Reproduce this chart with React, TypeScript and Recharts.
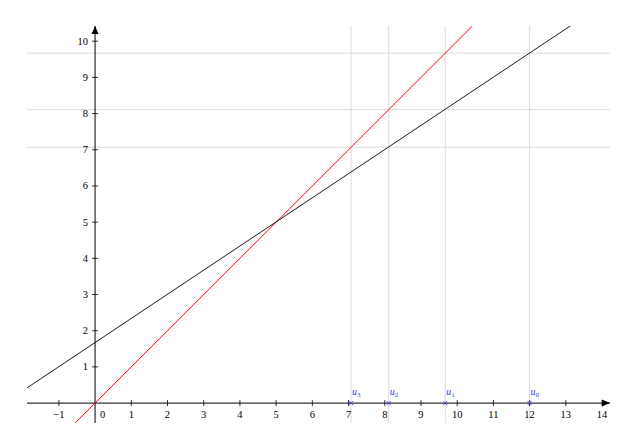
import { ComposedChart, Line, XAxis, YAxis, ReferenceLine, ReferenceDot } from 'recharts';

// values
const xTicks = [-1, 1, 2, 3, 4, 5, 6, 7, 8, 9, 10, 11, 12, 13, 14];
const yTicks = [1, 2, 3, 4, 5, 6, 7, 8, 9, 10];
const xDomain = [-1.88, 14.22];
const yDomain = [-0.55, 10.42];

const blackX = [-1.88, 13.15];
const blackY = [0.42, 10.44];
const redX = [-0.55, 10.42];
const redY = [-0.55, 10.42];

const uNames = ['0', '1', '2', '3'];
const uValues = [12, 9.67, 8.11, 7.07];

const blackData = blackX.map((x, i) => ({ x, y: blackY[i] }));
const redData = redX.map((x, i) => ({ x, y: redY[i] }));

const FONT = '"Liberation Serif", "DejaVu Serif", serif';
const BLUE = '#3b3bff';
const GRID = '#dcdcdc';

const XTick = ({ cx, cy, label }: any) => (
  <g>
    <line x1={cx} y1={cy - 3} x2={cx} y2={cy + 3} stroke="#000" strokeWidth={0.8} />
    <text x={cx} y={cy + 15} textAnchor="middle" fontSize={10.5} fontFamily={FONT} fill="#000">
      {label}
    </text>
  </g>
);

const YTick = ({ cx, cy, label }: any) => (
  <g>
    <line x1={cx - 3} y1={cy} x2={cx + 3} y2={cy} stroke="#000" strokeWidth={0.8} />
    <text x={cx - 7} y={cy + 3.5} textAnchor="end" fontSize={10.5} fontFamily={FONT} fill="#000">
      {label}
    </text>
  </g>
);

const UMark = ({ cx, cy, name }: any) => (
  <g>
    <line x1={cx - 2} y1={cy - 2} x2={cx + 2} y2={cy + 2} stroke={BLUE} strokeWidth={0.9} />
    <line x1={cx - 2} y1={cy + 2} x2={cx + 2} y2={cy - 2} stroke={BLUE} strokeWidth={0.9} />
    <text x={cx + 1} y={cy - 8} fontSize={10} fontFamily={FONT} fontStyle="italic" fill={BLUE}>
      u
      <tspan dy={2} fontSize={7} fontStyle="normal">{name}</tspan>
    </text>
  </g>
);

const ArrowRight = ({ cx, cy }: any) => (
  <path d={`M ${cx} ${cy} L ${cx - 8} ${cy - 3.5} L ${cx - 8} ${cy + 3.5} Z`} fill="#000" />
);

const ArrowUp = ({ cx, cy }: any) => (
  <path d={`M ${cx} ${cy} L ${cx - 3.5} ${cy + 8} L ${cx + 3.5} ${cy + 8} Z`} fill="#000" />
);

const OriginLabel = ({ cx, cy }: any) => (
  <text x={cx + 5} y={cy + 15} fontSize={10.5} fontFamily={FONT} fill="#000">0</text>
);

export default function App() {
  return (
    <div style={{ position: 'absolute', left: 0, top: 0, background: '#fff' }}>
      <ComposedChart
        width={621}
        height={428}
        margin={{ top: 26, right: 11, bottom: 5, left: 27 }}
      >
        <XAxis type="number" dataKey="x" domain={xDomain} allowDataOverflow hide />
        <YAxis type="number" dataKey="y" domain={yDomain} allowDataOverflow hide />

        {uValues.map((v) => (
          <ReferenceLine key={'v' + v} x={v} stroke={GRID} strokeWidth={1} />
        ))}
        {uValues.slice(1).map((v) => (
          <ReferenceLine key={'h' + v} y={v} stroke={GRID} strokeWidth={1} />
        ))}

        <ReferenceLine y={0} stroke="#000" strokeWidth={1} />
        <ReferenceLine x={0} stroke="#000" strokeWidth={1} />

        <Line data={redData} dataKey="y" stroke="#ff0000" strokeWidth={1} dot={false} isAnimationActive={false} />
        <Line data={blackData} dataKey="y" stroke="#000" strokeWidth={0.9} dot={false} isAnimationActive={false} />

        {xTicks.map((t) => (
          <ReferenceDot key={'xt' + t} x={t} y={0} ifOverflow="visible"
            shape={(p: any) => <XTick {...p} label={t < 0 ? '\u2212' + Math.abs(t) : String(t)} />} />
        ))}
        {yTicks.map((t) => (
          <ReferenceDot key={'yt' + t} x={0} y={t} ifOverflow="visible"
            shape={(p: any) => <YTick {...p} label={String(t)} />} />
        ))}
        <ReferenceDot x={0} y={0} ifOverflow="visible" shape={(p: any) => <OriginLabel {...p} />} />

        {uValues.map((v, i) => (
          <ReferenceDot key={'u' + i} x={v} y={0} ifOverflow="visible"
            shape={(p: any) => <UMark {...p} name={uNames[i]} />} />
        ))}

        <ReferenceDot x={xDomain[1]} y={0} ifOverflow="visible" shape={(p: any) => <ArrowRight {...p} />} />
        <ReferenceDot x={0} y={yDomain[1]} ifOverflow="visible" shape={(p: any) => <ArrowUp {...p} />} />
      </ComposedChart>
    </div>
  );
}
